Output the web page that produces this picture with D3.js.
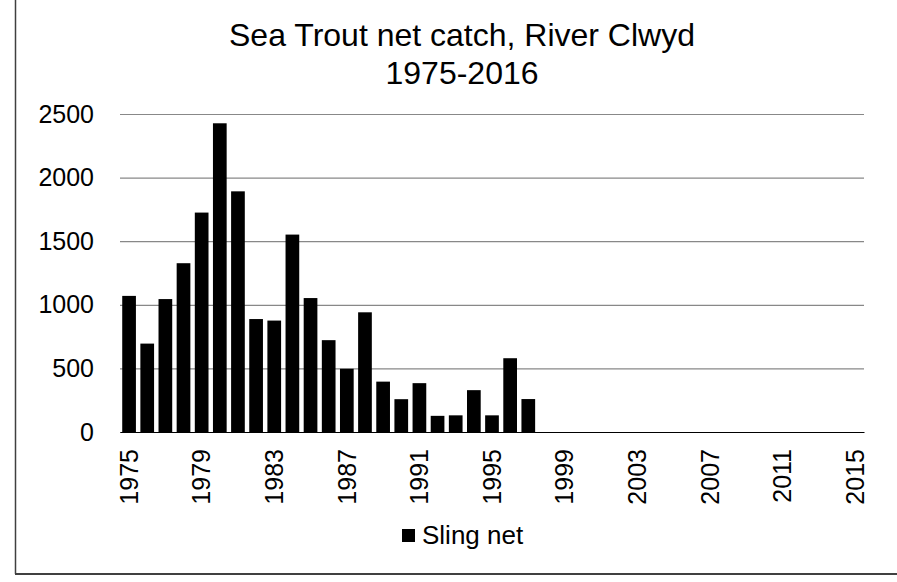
<!DOCTYPE html>
<html lang="en">
<head>
    <meta charset="utf-8">
    <title>Sea Trout net catch, River Clwyd</title>
    <script src="https://d3js.org/d3.v7.min.js"></script>
    <style>
        body { margin: 0; background: #fff; }
        text { font-family: "Liberation Sans", Arial, sans-serif; fill: #000; }
    </style>
</head>
<body>
<svg width="897" height="582"></svg>
<script>
    // data
    var years = d3.range(1975, 2016).map(String);   // 1975..2015
    var slingNet = [1070, 695, 1045, 1327, 1725, 2427, 1892, 888, 876, 1552,
                    1053, 722, 497, 941, 396, 258, 384, 127, 131, 329,
                    131, 580, 259];
    var yTicks = [0, 500, 1000, 1500, 2000, 2500];
    var xTickLabels = years.filter(function(d, i){ return i % 4 === 0; });
    var seriesName = "Sling net";
    var titleLines = ["Sea Trout net catch, River Clwyd", "1975-2016"];

    var marge = {top:114, bottom:150, left:120, right:33};
    var svg = d3.select("svg");
    var width = 897 - marge.left - marge.right;
    var height = 432 - marge.top;

    // outer frame (only left and bottom edges are visible)
    svg.append("line").attr("x1",15.5).attr("x2",15.5).attr("y1",0).attr("y2",574)
        .attr("stroke","#404040").attr("stroke-width",1.5);
    svg.append("line").attr("x1",15).attr("x2",897).attr("y1",574).attr("y2",574)
        .attr("stroke","#404040").attr("stroke-width",2);

    // title
    svg.append("text")
        .attr("x",462)
        .attr("y",46)
        .attr("text-anchor","middle")
        .style("font-size","32px")
        .selectAll("tspan")
        .data(titleLines)
        .enter()
        .append("tspan")
        .attr("x",462)
        .attr("dy",function(d,i){ return i === 0 ? 0 : 38; })
        .text(function(d){ return d; });

    var x = d3.scaleBand()
        .domain(years)
        .range([0,width])
        .paddingInner(0.245)
        .paddingOuter(0.1225);

    var y = d3.scaleLinear()
        .domain([0,2500])
        .range([height,0]);

    var g = svg.append("g")
        .attr("transform","translate("+marge.left+","+marge.top+")");

    // gridlines
    g.append("g")
        .call(d3.axisLeft(y).tickValues(yTicks).tickSize(-width).tickFormat(""))
        .call(function(s){
            s.select(".domain").remove();
            s.selectAll("line").attr("stroke","#888").attr("stroke-width",1.2);
        });

    // y tick labels
    g.append("g")
        .call(d3.axisLeft(y).tickValues(yTicks).tickSize(0).tickPadding(26).tickFormat(d3.format("d")))
        .call(function(s){
            s.select(".domain").remove();
            s.selectAll("text").style("font-size","25px").attr("font-family",null);
        });

    // bars
    g.selectAll("rect")
        .data(slingNet)
        .enter()
        .append("rect")
        .attr("x",function(d,i){ return x(years[i]); })
        .attr("y",function(d){ return y(d); })
        .attr("width",x.bandwidth())
        .attr("height",function(d){ return height - y(d); })
        .attr("fill","#000");

    // x axis
    g.append("g")
        .attr("transform","translate(0,"+height+")")
        .call(d3.axisBottom(x).tickValues(xTickLabels).tickSize(0).tickPadding(0))
        .call(function(s){
            s.select(".domain").attr("stroke","#000").attr("stroke-width",1.2);
            s.selectAll("text")
                .style("font-size","25px")
                .attr("font-family",null)
                .attr("transform","rotate(-90)")
                .attr("text-anchor","end")
                .attr("x",-17)
                .attr("y",0)
                .attr("dy","0.35em");
        });

    // legend
    var legend = svg.append("g").attr("transform","translate(402,529)");
    legend.append("rect").attr("width",13).attr("height",13).attr("fill","#000");
    legend.append("text")
        .attr("x",20)
        .attr("y",15)
        .style("font-size","26px")
        .text(seriesName);
</script>
</body>
</html>
